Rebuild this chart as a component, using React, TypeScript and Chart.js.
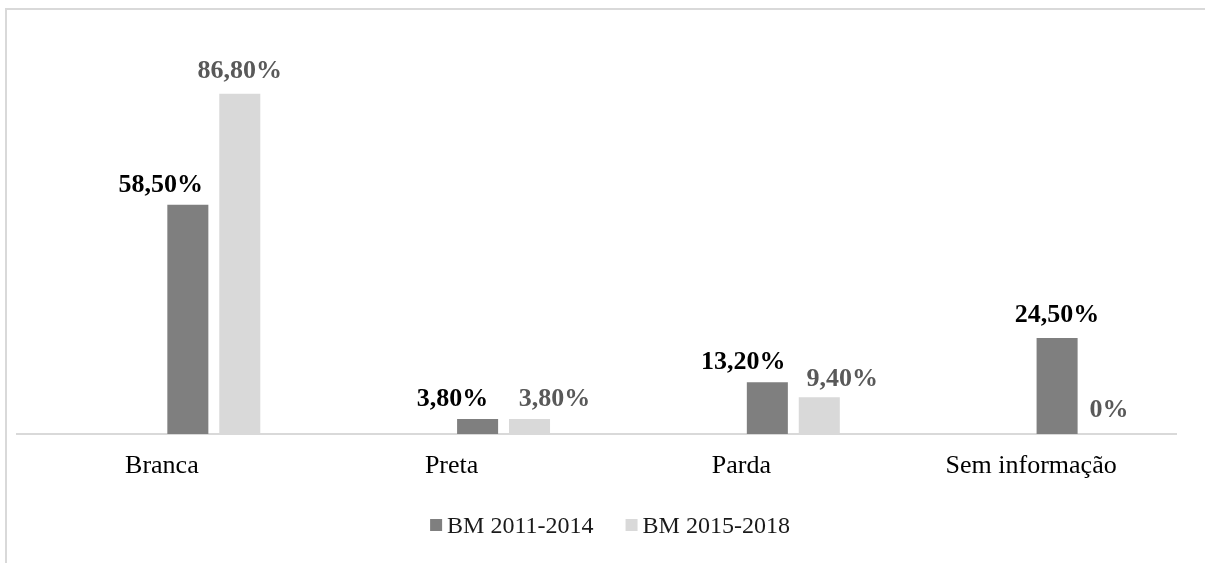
import React, { useEffect, useRef } from "react";
import { Chart, registerables } from "chart.js";
Chart.register(...registerables);

const categories = ["Branca", "Preta", "Parda", "Sem informação"];
const series1Label = "BM 2011-2014";
const series2Label = "BM 2015-2018";
const series1 = [58.5, 3.8, 13.2, 24.5];
const series2 = [86.8, 3.8, 9.4, 0];
const emptySeries = [null, null, null, null];

// label nudges (style only, as the labels were moved by hand in the original)
const nudgeX1 = [-27, -25, -24, 0];
const nudgeX2 = [0, 25, 23, 0];
const raise1 = [13, 13, 13, 16];
const raise2 = [16, 13, 11, 17];

const FONT = "'Liberation Serif', 'Times New Roman', serif";
const DARK = "#7f7f7f";
const LIGHT = "#d9d9d9";

export default function App() {
  const ref = useRef<HTMLCanvasElement>(null);
  useEffect(() => {
    if (!ref.current) return;

    const framePlugin = {
      id: "frame",
      beforeDraw(chart: any) {
        const ctx = chart.ctx;
        ctx.save();
        ctx.fillStyle = "#d9d9d9";
        ctx.fillRect(5, 8, chart.width, 2);
        ctx.fillRect(5, 8, 2, chart.height);
        ctx.restore();
      },
    };

    const labelPlugin = {
      id: "valueLabels",
      afterDatasetsDraw(chart: any) {
        const ctx = chart.ctx;
        ctx.save();
        ctx.font = `bold 26px ${FONT}`;
        ctx.textAlign = "center";
        ctx.textBaseline = "alphabetic";
        chart.data.datasets.forEach((ds: any, i: number) => {
          if (!ds.showValues) return;
          const meta = chart.getDatasetMeta(i);
          meta.data.forEach((bar: any, j: number) => {
            const v = ds.data[j];
            if (v == null) return;
            const txt = v === 0 ? "0%" : v.toFixed(2).replace(".", ",") + "%";
            ctx.fillStyle = ds.valueColor;
            ctx.fillText(txt, bar.x + ds.nudgeX[j], bar.y - ds.raise[j]);
          });
        });
        ctx.restore();
      },
    };

    const legendPlugin = {
      id: "customLegend",
      afterDraw(chart: any) {
        const ctx = chart.ctx;
        ctx.save();
        ctx.font = `24px ${FONT}`;
        ctx.textBaseline = "alphabetic";
        const items = chart.data.datasets.filter((d: any) => d.showValues);
        const box = 12;
        const boxGap = 5;
        const itemGap = 32;
        const widths = items.map((d: any) => box + boxGap + ctx.measureText(d.label).width);
        const total = widths.reduce((a: number, b: number) => a + b, 0) + itemGap * (items.length - 1);
        let x = chart.width / 2 + 7.5 - total / 2;
        const baseline = 533;
        items.forEach((d: any, k: number) => {
          ctx.fillStyle = d.backgroundColor;
          ctx.fillRect(x, baseline - 14, box, box);
          ctx.fillStyle = "#1a1a1a";
          ctx.fillText(d.label, x + box + boxGap, baseline);
          x += widths[k] + itemGap;
        });
        ctx.restore();
      },
    };

    const chart = new Chart(ref.current, {
      type: "bar",
      data: {
        labels: categories,
        datasets: [
          { label: "", data: emptySeries, backgroundColor: DARK },
          { label: "", data: emptySeries, backgroundColor: DARK },
          {
            label: series1Label,
            data: series1,
            backgroundColor: DARK,
            showValues: true,
            valueColor: "#000000",
            nudgeX: nudgeX1,
            raise: raise1,
          } as any,
          {
            label: series2Label,
            data: series2,
            backgroundColor: LIGHT,
            showValues: true,
            valueColor: "#595959",
            nudgeX: nudgeX2,
            raise: raise2,
          } as any,
        ],
      },
      options: {
        responsive: false,
        animation: false,
        devicePixelRatio: 1,
        layout: { padding: { left: 17, right: 29, top: 42, bottom: 0 } },
        datasets: {
          bar: { categoryPercentage: 0.717, barPercentage: 0.79 },
        },
        plugins: {
          legend: { display: false },
          tooltip: { enabled: false },
          title: { display: false },
        },
        scales: {
          x: {
            grid: { display: false, drawTicks: false },
            border: { display: true, color: "#d9d9d9", width: 2 },
            ticks: {
              color: "#000000",
              font: { family: FONT, size: 26 },
              padding: 17,
            },
            afterFit: (scale: any) => {
              scale.height = 129;
            },
          },
          y: {
            display: false,
            min: 0,
            max: 100,
          },
        },
      },
      plugins: [framePlugin, labelPlugin, legendPlugin],
    });
    return () => chart.destroy();
  }, []);

  return (
    <div style={{ position: "fixed", left: 0, top: 0, width: 1205, height: 563, background: "#ffffff" }}>
      <canvas ref={ref} width={1205} height={563} />
    </div>
  );
}
